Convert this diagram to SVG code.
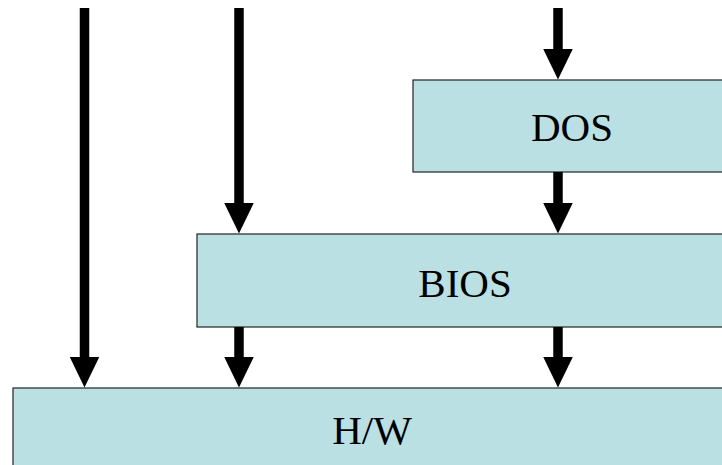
<svg xmlns="http://www.w3.org/2000/svg" width="722" height="465" viewBox="0 0 722 465">
  <style>
    .box { fill: #BBE0E3; stroke: #222; stroke-width: 1.2; }
    .lbl { font-family: "Liberation Serif", "Times New Roman", serif; font-size: 41px; fill: #000; text-anchor: middle; }
    .conn { stroke: #000; stroke-width: 9.5; fill: none; marker-end: url(#head); }
  </style>
  <defs>
    <marker id="head" markerUnits="userSpaceOnUse" viewBox="0 -15 31 30" markerWidth="31" markerHeight="30" refX="0.5" refY="0" orient="auto">
      <path d="M0,-15 L31,0 L0,15 z" fill="#000"/>
    </marker>
  </defs>
  <g id="dos">
    <rect class="box" x="413" y="80" width="320" height="92"/>
    <text class="lbl" x="572" y="141">DOS</text>
  </g>
  <g id="bios">
    <rect class="box" x="197" y="234" width="536" height="93"/>
    <text class="lbl" x="465" y="297">BIOS</text>
  </g>
  <g id="hw">
    <rect class="box" x="13" y="388" width="720" height="90"/>
    <text class="lbl" x="372" y="444">H/W</text>
  </g>
  <g id="connectors">
    <line class="conn" x1="84.5" y1="8" x2="84.5" y2="357"/>
    <line class="conn" x1="239" y1="8" x2="239" y2="203"/>
    <line class="conn" x1="239" y1="327" x2="239" y2="357"/>
    <line class="conn" x1="558" y1="8" x2="558" y2="49"/>
    <line class="conn" x1="558" y1="172" x2="558" y2="203"/>
    <line class="conn" x1="558" y1="327" x2="558" y2="357"/>
  </g>
</svg>
